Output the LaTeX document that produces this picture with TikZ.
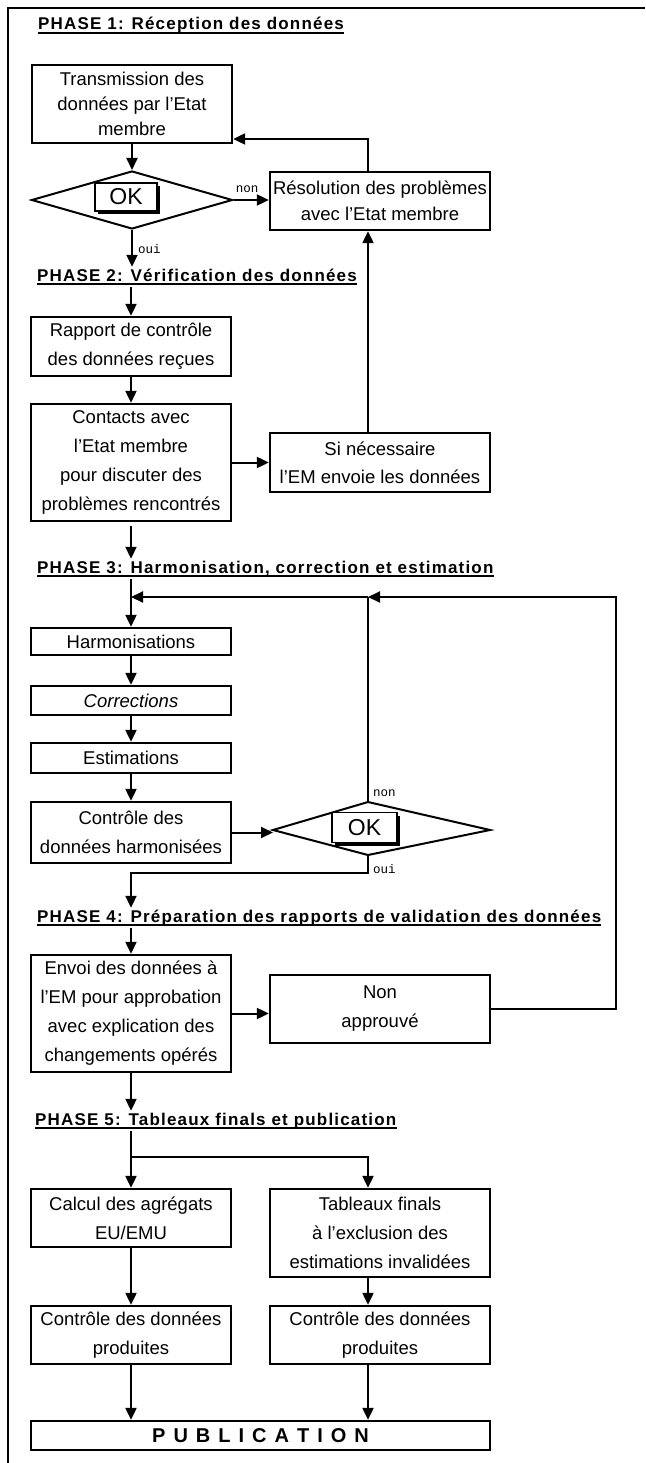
\documentclass[tikz,border=0pt]{standalone}
\usepackage{fontspec}
\setmainfont{Liberation Sans}
\newfontfamily\monofont{Liberation Mono}
\newfontfamily\titlefont[LetterSpace=7]{Liberation Sans Bold}
\newfontfamily\pubfont{Liberation Sans Bold}
\newcommand\pubgap{\hspace{8pt}}
\usetikzlibrary{arrows.meta,shapes.geometric}
\tikzset{
  box/.style={draw, line width=2.3pt, inner sep=0pt, align=center, font=\fontsize{18.5}{29}\selectfont},
  lbox/.style={box, minimum width=200pt},
  rbox/.style={box, minimum width=220pt},
  arr/.style={line width=2pt, -{Triangle[length=12pt,width=11pt]}},
  ln/.style={line width=2pt},
  phase/.style={anchor=base west, inner xsep=0pt, inner ysep=2pt, text height=12pt, text depth=4pt, font=\titlefont\fontsize{17}{20}\selectfont},
  uline/.style={line width=1.4pt},
  lab/.style={font=\monofont\fontsize{12.5}{13}\selectfont, inner sep=0pt},
  okbox/.style={draw, fill=white, line width=1.8pt, minimum width=62pt, minimum height=28pt, inner sep=0pt, font=\fontsize{23}{23}\selectfont},
  okshadow/.style={fill=black, minimum width=62pt, minimum height=28pt, inner sep=0pt},
  borderline/.style={line width=1.6pt},
}
\begin{document}
\begin{tikzpicture}[x=1pt,y=-1pt]
\useasboundingbox (0,0) rectangle (645,1463);
\draw[borderline] (645,8) -- (8,8) -- (8,1463);

\coordinate (lx) at (368,0);

% PHASE 1
\node[phase] (T1) at (38,30) {PHASE 1: Réception des données};
\draw[uline] ([yshift=-3pt]T1.base west) -- ([yshift=-3pt]T1.base east);
\node[lbox, minimum height=78pt, font=\fontsize{18.5}{25}\selectfont] (A) at (132,104) {Transmission des\\données par l'Etat\\membre};
\node[diamond, draw, line width=2pt, minimum width=201pt, minimum height=58pt, inner sep=0pt] (D1) at (132,200) {};
\node[okshadow] at (129,200) {};
\node[okbox] (OK1) at (126,197) {OK};
\node[lab] (non1) at (247,189) {non};
\node[rbox, minimum height=58pt, font=\fontsize{18.5}{26}\selectfont] (R) at (380,201) {Résolution des problèmes\\avec l'Etat membre};
\draw[arr] (A.south) -- (D1.north);
\draw[arr] (D1.east) -- (D1.east -| R.west);
\draw[arr] (R.north -| lx) |- ([yshift=-35pt]A.east);
\node[lab, anchor=west] (oui1) at (138,249) {oui};

% PHASE 2
\node[phase] (T2) at (37,281) {PHASE 2: Vérification des données};
\draw[uline] ([yshift=-3pt]T2.base west) -- ([yshift=-3pt]T2.base east);
\draw[arr] (D1.south) -- (D1.south |- T2.north);
\node[lbox, minimum height=59pt] (B) at (131,346.5) {Rapport de contrôle\\des données reçues};
\draw[arr] (T2.south -| B.north) -- (B.north);
\node[lbox, minimum height=117pt] (C) at (131,462.5) {Contacts avec\\l'Etat membre\\pour discuter des\\problèmes rencontrés};
\draw[arr] (B.south) -- (C.north);
\node[rbox, minimum height=59pt, font=\fontsize{18.5}{28}\selectfont] (S) at (380,462.5) {Si nécessaire\\l'EM envoie les données};
\draw[arr] (C.east) -- (S.west);
\draw[arr] (S.north -| lx) -- (R.south -| lx);

% PHASE 3
\node[phase] (T3) at (37,573) {PHASE 3: Harmonisation, correction et estimation};
\draw[uline] ([yshift=-3pt]T3.base west) -- ([yshift=-3pt]T3.base east);
\draw[arr, shorten <=4pt] (C.south) -- (C.south |- T3.north);
\node[lbox, minimum height=27pt] (H) at (131,641.5) {Harmonisations};
\draw[arr] (T3.south -| H.north) -- (H.north);
\node[lbox, minimum height=29pt] (Co) at (131,700.5) {\itshape Corrections};
\draw[arr] (H.south) -- (Co.north);
\node[lbox, minimum height=30pt] (Es) at (131,758) {Estimations};
\draw[arr] (Co.south) -- (Es.north);
\node[lbox, minimum height=61pt] (K) at (131,832.5) {Contrôle des\\données harmonisées};
\draw[arr] (Es.south) -- (K.north);

\coordinate (D2t) at (368,802);
\coordinate (D2r) at (490,830);
\coordinate (D2b) at (368,855);
\coordinate (D2l) at (273,830);
\draw[ln] (D2t) -- (D2r) -- (D2b) -- (D2l) -- cycle;
\node[okshadow, minimum width=65pt, minimum height=30pt] at (367.5,830.5) {};
\node[okbox, minimum width=65pt, minimum height=30pt] (OK2) at (364.5,827.5) {OK};
\draw[arr] (K.east) -- (K.east -| D2l);

\coordinate (lp) at (616,597);
\coordinate (lm) at (368,597);
\coordinate (lh) at (131,597);
\draw[ln] (D2t) -- (lm);
\node[lab, anchor=west] (non2) at (373,793) {non};
\node[lab, anchor=west] (oui2) at (373,869) {oui};
\coordinate (c2) at (368,873);

% PHASE 4
\node[phase] (T4) at (37,922) {PHASE 4: Préparation des rapports de validation des données};
\draw[uline] ([yshift=-3pt]T4.base west) -- ([yshift=-3pt]T4.base east);
\draw[arr] (D2b) -- (c2) -| (T4.north -| K.south);
\node[lbox, minimum height=117pt] (E) at (131,1013.5) {Envoi des données à\\l'EM pour approbation\\avec explication des\\changements opérés};
\draw[arr] (T4.south -| E.north) -- (E.north);
\node[rbox, minimum height=68pt] (N) at (380,1009) {Non\\approuvé};
\draw[arr] (E.east) -- (E.east -| N.west);
\draw[arr] (N.east) -| (lp) -- (lm);
\draw[arr] (lm) -- (lh);

% PHASE 5
\node[phase] (T5) at (35,1125) {PHASE 5: Tableaux finals et publication};
\draw[uline] ([yshift=-3pt]T5.base west) -- ([yshift=-3pt]T5.base east);
\draw[arr] (E.south) -- (E.south |- T5.north);
\coordinate (j1) at (131,1157);
\coordinate (j2) at (368,1157);
\node[lbox, minimum height=58pt] (F) at (131,1218) {Calcul des agrégats\\EU/EMU};
\node[rbox, minimum height=88pt] (G) at (380,1233) {Tableaux finals\\à l'exclusion des\\estimations invalidées};
\draw[ln] (T5.south -| j1) -- (j1);
\draw[arr] (j1) -- (F.north);
\draw[arr] (j1) -- (j2) -- (j2 |- G.north);
\node[lbox, minimum height=58pt] (H1) at (131,1335) {Contrôle des données\\produites};
\node[rbox, minimum height=58pt] (H2) at (380,1335) {Contrôle des données\\produites};
\draw[arr] (F.south) -- (H1.north);
\draw[arr] (G.south -| j2) -- (H2.north -| j2);
\node[box, minimum width=459pt, minimum height=29pt, font=\pubfont\fontsize{20}{20}\selectfont] (P) at (260.5,1435.5) {P\pubgap U\pubgap B\pubgap L\pubgap I\pubgap C\pubgap A\pubgap T\pubgap I\pubgap O\pubgap N};
\draw[arr] (H1.south) -- (H1.south |- P.north);
\draw[arr] (H2.south -| j2) -- (j2 |- P.north);
\end{tikzpicture}
\end{document}
